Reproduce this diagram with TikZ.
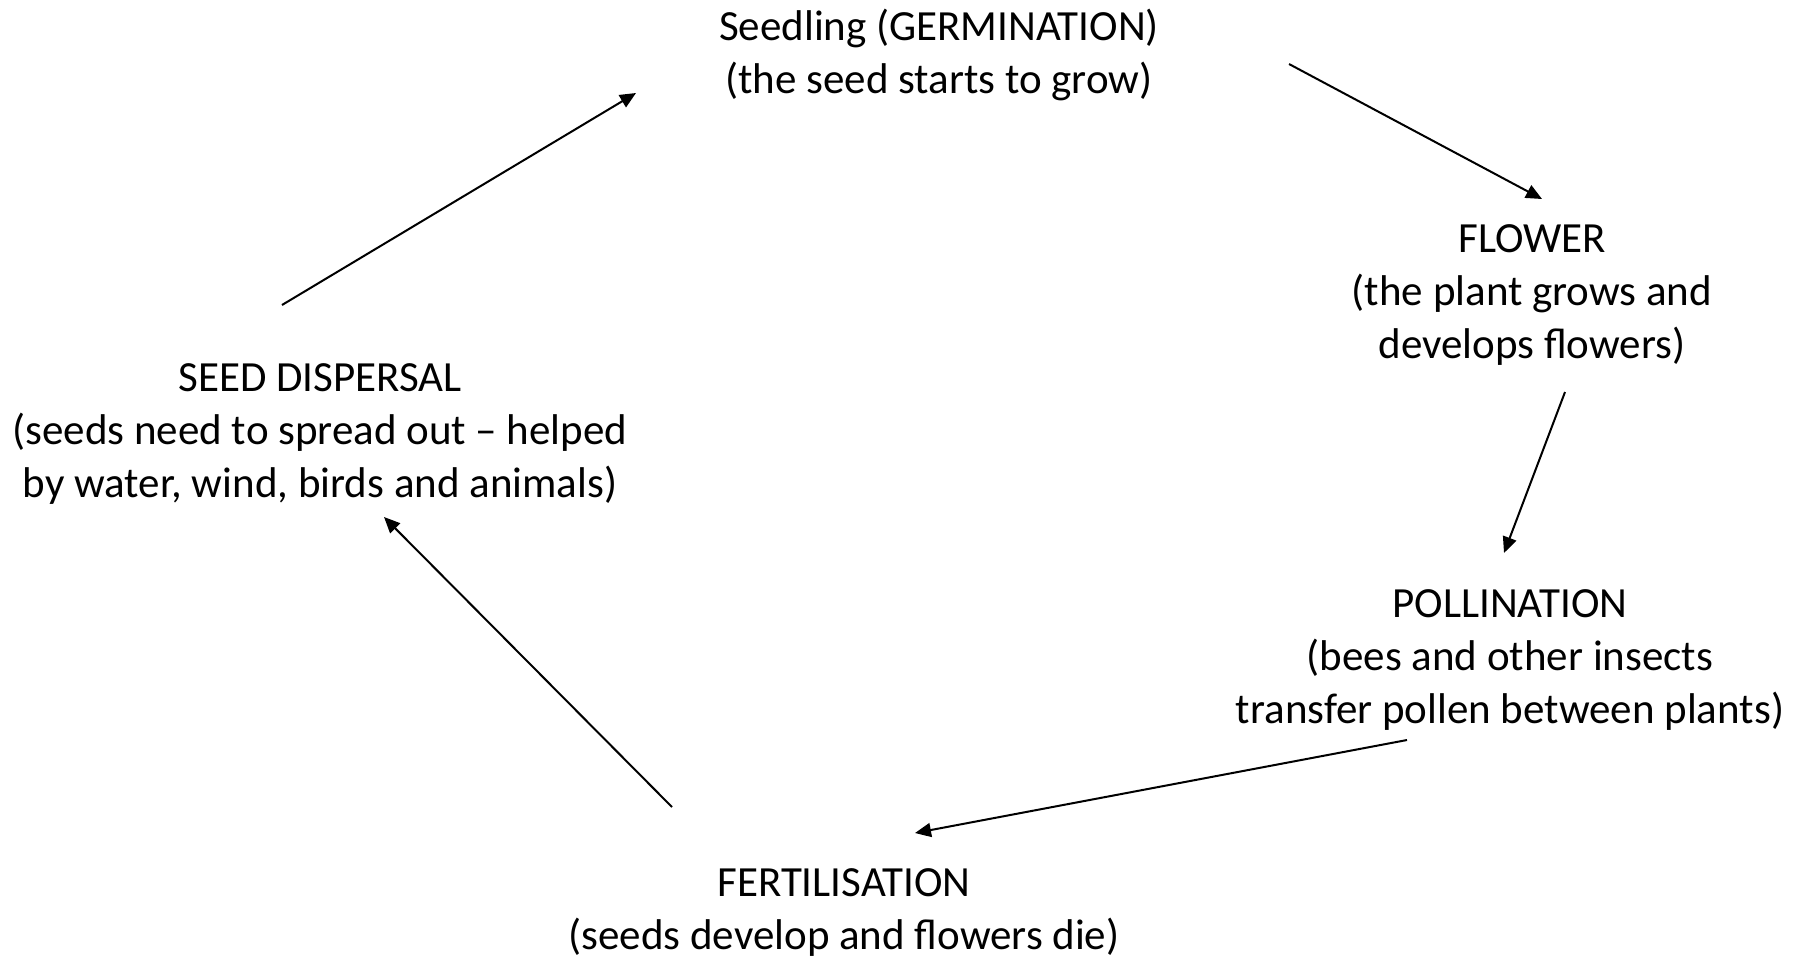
\documentclass[tikz,border=0pt]{standalone}
\usepackage{fontspec}
\setmainfont{Carlito}
\usetikzlibrary{arrows.meta}
\begin{document}
\begin{tikzpicture}[x=1pt,y=-1pt,
    stage/.style={align=center,inner sep=0pt,font=\fontsize{43}{53}\selectfont},
    cyc/.style={line width=2pt,-{Triangle[length=16pt,width=14pt]}}]
    \useasboundingbox (0,0) rectangle (1798,959);
    \node[stage] (seedling) at (939,55) {Seedling (GERMINATION)\\(the seed starts to grow)};
    \node[stage] (flower) at (1532,295) {FLOWER\\(the plant grows and\\develops flowers)};
    \node[stage] (pollination) at (1510,660) {POLLINATION\\(bees and other insects\\transfer pollen between plants)};
    \node[stage] (fertilisation) at (844,912) {FERTILISATION\\(seeds develop and flowers die)};
    \node[stage] (dispersal) at (320,434) {SEED DISPERSAL\\(seeds need to spread out -- helped\\by water, wind, birds and animals)};
    % arrow ends
    \coordinate (a1) at (282,305);  \coordinate (b1) at (636,93);
    \coordinate (a2) at (1289,64);  \coordinate (b2) at (1542,199);
    \coordinate (a3) at (1565,392); \coordinate (b3) at (1504,553);
    \coordinate (a4) at (1407,740); \coordinate (b4) at (915,833);
    \coordinate (a5) at (672,807);  \coordinate (b5) at (384,517);
    \foreach \i in {1,...,5}
        \draw[cyc] (a\i) -- (b\i);
\end{tikzpicture}
\end{document}
